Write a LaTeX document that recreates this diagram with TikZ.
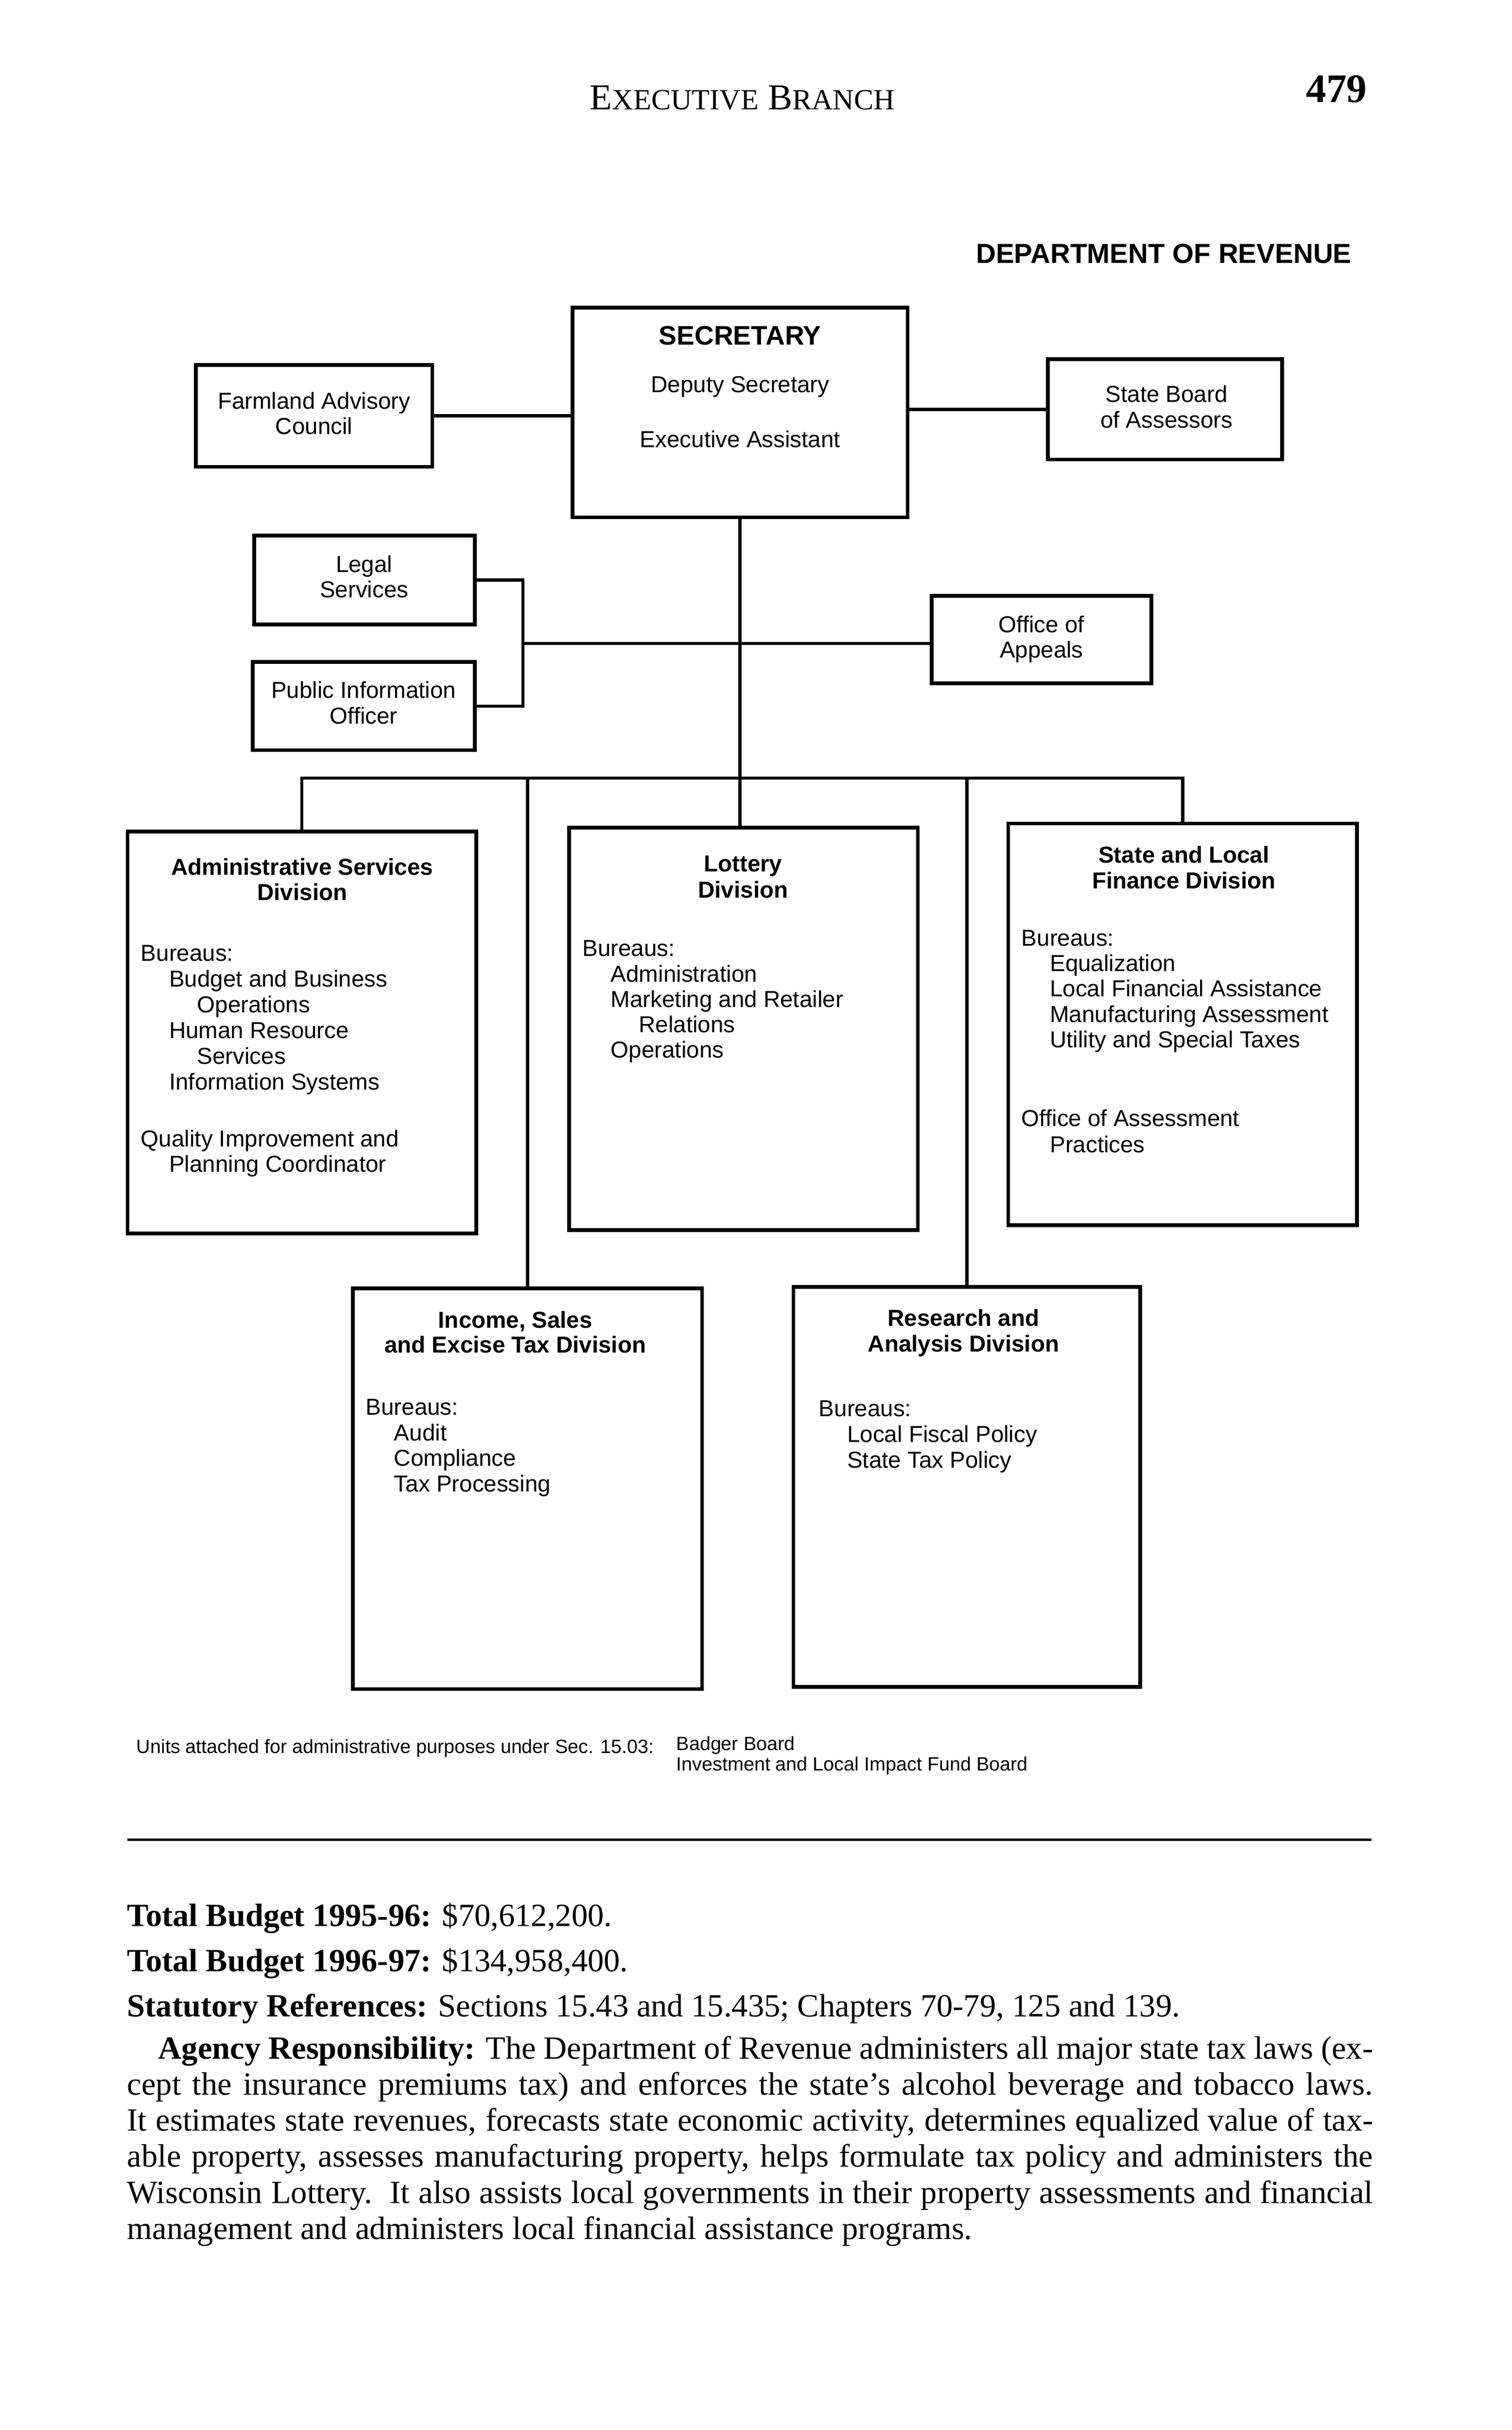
\documentclass[tikz,border=0pt]{standalone}
\usepackage{fontspec}
\setmainfont{Liberation Serif}
\newfontfamily\hv{Liberation Sans}
\usetikzlibrary{fit}
\newcommand\ia{\hspace*{13.5pt}}
\newcommand\ib{\hspace*{26.8pt}}
\newcommand\txtlines[6]{\foreach \tline [count=\kk] in {#6} {\node[#1] (#2\kk) at (#3, {#4+#5*(\kk-1)}) {\tline};}}
\begin{document}
\begin{tikzpicture}[x=0.75pt, y=-0.75pt,
  box/.style={draw=black, line width=1.8pt, inner sep=0pt},
  conn/.style={draw=black, line width=1.5pt},
  bl/.style={anchor=base west, inner sep=0pt, font=\hv\fontsize{11}{13}\selectfont},
  bc/.style={anchor=base, inner sep=0pt, font=\hv\fontsize{11}{13}\selectfont},
  bb/.style={anchor=base, inner sep=0pt, font=\hv\bfseries\fontsize{11}{13}\selectfont},
  small/.style={anchor=base west, inner sep=0pt, font=\hv\fontsize{9.15}{11}\selectfont},
  body/.style={anchor=base west, inner sep=0pt, font=\fontsize{15.4}{18}\selectfont}]
\fill[white] (0,0) rectangle (960,1543);
\useasboundingbox (0,0) rectangle (960,1543);

% header
\node[anchor=base, inner sep=0pt, font=\fontsize{17.4}{20}\selectfont] (hdr) at (471.4,69.7)
  {E{\fontsize{13.95}{16}\selectfont XECUTIVE} B{\fontsize{13.95}{16}\selectfont RANCH}};
\node[anchor=base east, inner sep=0pt, font=\bfseries\fontsize{19.3}{22}\selectfont] (pg) at (868.2,64.9) {479};
\node[anchor=base east, inner sep=0pt, font=\hv\bfseries\fontsize{13.1}{15}\selectfont] (dept) at (858.4,167.0) {DEPARTMENT OF REVENUE};

% boxes
\node[box, fit={(363.5,195.4) (576.3,328.5)}] (sec) {};
\node[box, fit={(124.3,231.7) (274.5,296.4)}] (farm) {};
\node[box, fit={(665.4,228.1) (814.0,291.8)}] (sb) {};
\node[box, fit={(161.5,340.1) (301.4,396.5)}] (leg) {};
\node[box, fit={(160.4,420.4) (301.4,476.3)}] (pub) {};
\node[box, fit={(591.6,378.3) (731.0,433.8)}] (app) {};
\node[box, fit={(81.0,528.1) (302.4,783.2)}] (adm) {};
\node[box, fit={(361.4,525.6) (582.8,781.1)}] (lot) {};
\node[box, fit={(640.2,522.9) (861.6,778.0)}] (sl) {};
\node[box, fit={(224.1,818.2) (445.8,1072.5)}] (inc) {};
\node[box, fit={(503.8,817.1) (724.0,1071.2)}] (res) {};

% connectors
\draw[conn] (farm.east) -- (farm.east -| sec.west);
\draw[conn] (sb.west) -- (sb.west -| sec.east);
\draw[conn] (sec.south) -- (sec.south |- lot.north);
\coordinate (brk) at (332,408.5);
\draw[conn] (leg.east) -| (brk) |- (pub.east);
\draw[conn] (brk) -- (brk -| app.west);
\coordinate (bus) at (470.4,494);
\draw[conn] (adm.north) |- (bus) -| (sl.north);
\draw[conn] (inc.north) -- (inc.north |- bus);
\draw[conn] (res.north) -- (res.north |- bus);

% secretary text
\node[bb, font=\hv\bfseries\fontsize{12.75}{14}\selectfont] (sect) at (469.9,218.8) {SECRETARY};
\txtlines{bc}{secl}{470}{249.3}{34.8}{Deputy Secretary, Executive Assistant}
\txtlines{bc}{farmt}{199.4}{259.7}{16.1}{Farmland Advisory, Council}
\txtlines{bc}{sbt}{740.7}{255.5}{16.2}{State Board, of Assessors}
\txtlines{bc}{legt}{231.2}{363.3}{16.2}{Legal, Services}
\txtlines{bc}{pubt}{230.9}{443.2}{16.5}{Public Information, Officer}
\txtlines{bc}{appt}{661.3}{401.7}{16}{Office of, Appeals}

% administrative services
\txtlines{bb}{admt}{191.9}{555.7}{16}{Administrative Services, Division}
\txtlines{bl}{admb}{89.2}{610.4}{16.3}{Bureaus:, \ia Budget and Business, \ib Operations, \ia Human Resource, \ib Services, \ia Information Systems}
\txtlines{bl}{admq}{89.2}{728.2}{16}{Quality Improvement and, \ia Planning Coordinator}

% lottery
\txtlines{bb}{lott}{471.8}{553.6}{16.6}{Lottery, Division}
\txtlines{bl}{lotb}{369.6}{607.3}{16.1}{Bureaus:, \ia Administration, \ia Marketing and Retailer, \ib Relations, \ia Operations}

% state and local
\txtlines{bb}{slt}{751.7}{547.8}{16.6}{State and Local, Finance Division}
\txtlines{bl}{slb}{648.4}{600.7}{16.1}{Bureaus:, \ia Equalization, \ia Local Financial Assistance, \ia Manufacturing Assessment, \ia Utility and Special Taxes}
\txtlines{bl}{slo}{648.4}{715.3}{16.6}{Office of Assessment, \ia Practices}

% income
\txtlines{bb}{inct}{327.2}{843.2}{15.8}{{Income, Sales}, and Excise Tax Division}
\txtlines{bl}{incb}{232}{898.4}{16.3}{Bureaus:, \ia Audit, \ia Compliance, \ia Tax Processing}

% research
\txtlines{bb}{rest}{611.8}{842.1}{16.2}{Research and, Analysis Division}
\txtlines{bl}{resb}{519.7}{899.5}{16.25}{Bureaus:, \ia Local Fiscal Policy, \ia State Tax Policy}

% attached units
\node[small] (units) at (86.4,1113.2) {Units attached for administrative purposes under Sec. 15.03:};
\txtlines{small}{att}{429.2}{1111.5}{13}{Badger Board, Investment and Local Impact Fund Board}

% rule
\coordinate (rl) at (81,1168.3);
\coordinate (rr) at (871,1168.3);
\draw[line width=1.1pt] (rl) -- (rr);

% bottom text
\node[body] (tb1) at (80.5,1223.1) {\textbf{Total Budget 1995-96:} \$70,612,200.};
\node[body] (tb2) at (80.5,1251.7) {\textbf{Total Budget 1996-97:} \$134,958,400.};
\node[body] (stat) at (80.5,1280.4) {\textbf{Statutory References:} Sections 15.43 and 15.435; Chapters 70-79, 125 and 139.};
\node[body] (ag1) at (80.5,1307.3) {\hbox to 593.3pt{\hskip14.85pt\textbf{Agency Responsibility:} The Department of Revenue administers all major state tax laws (ex-}};
\node[body] (ag2) at (80.5,1330.2) {\hbox to 593.3pt{cept the insurance premiums tax) and enforces the state’s alcohol beverage and tobacco laws.}};
\node[body] (ag3) at (80.5,1353.1) {\hbox to 593.3pt{It estimates state revenues, forecasts state economic activity, determines equalized value of tax-}};
\node[body] (ag4) at (80.5,1376.0) {\hbox to 593.3pt{able property, assesses manufacturing property, helps formulate tax policy and administers the}};
\node[body] (ag5) at (80.5,1398.9) {\hbox to 593.3pt{Wisconsin Lottery.\ \ It also assists local governments in their property assessments and financial}};
\node[body] (ag6) at (80.5,1421.8) {management and administers local financial assistance programs.};
\end{tikzpicture}
\end{document}
